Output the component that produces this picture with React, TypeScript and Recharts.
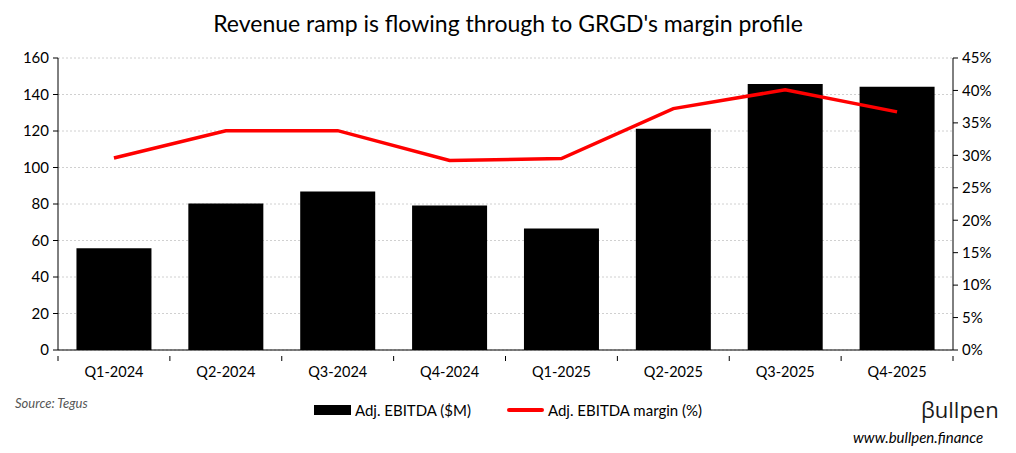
import React from "react";
import { ComposedChart, Bar, Line, XAxis, YAxis, CartesianGrid, Legend } from "recharts";

const quarters = ["Q1-2024", "Q2-2024", "Q3-2024", "Q4-2024", "Q1-2025", "Q2-2025", "Q3-2025", "Q4-2025"];
const ebitda = [55.7, 80.3, 86.8, 79.2, 66.6, 121.2, 145.8, 144.2];
const margin = [29.6, 33.8, 33.8, 29.2, 29.5, 37.2, 40.1, 36.7];
const leftTicks = [0, 20, 40, 60, 80, 100, 120, 140, 160];
const rightTicks = [0, 5, 10, 15, 20, 25, 30, 35, 40, 45];

const data = quarters.map((q, i) => ({ q, ebitda: ebitda[i], margin: margin[i] }));

const FONT = "Lato, 'Open Sans', sans-serif";

const CatTick = (props: any) => {
  const { x, y, payload, index, width } = props;
  const half = width / quarters.length / 2;
  const axisY = y - 14;
  return (
    <g>
      <line x1={x - half} x2={x - half} y1={axisY} y2={axisY + 5} stroke="#000" />
      {index === quarters.length - 1 && <line x1={x + half} x2={x + half} y1={axisY} y2={axisY + 5} stroke="#000" />}
      <text x={x} y={y} dy={7} textAnchor="middle" fill="#000" fontSize={14.5} fontFamily={FONT}>
        {payload.value}
      </text>
    </g>
  );
};

const LegendContent = () => (
  <div style={{ display: "flex", justifyContent: "center", alignItems: "center", fontFamily: FONT, fontSize: 15, color: "#000" }}>
    <span style={{ display: "inline-block", width: 37, height: 10, background: "#000", marginRight: 4 }} />
    <span style={{ marginRight: 36 }}>Adj. EBITDA ($M)</span>
    <span style={{ display: "inline-block", width: 37, height: 4, background: "#ff0000", borderRadius: 2, marginRight: 4 }} />
    <span>Adj. EBITDA margin (%)</span>
  </div>
);

export default function App() {
  return (
    <div style={{ position: "relative", width: 1000, height: 445, background: "#fff", fontFamily: FONT }}>
      <div style={{ position: "absolute", top: 0, left: 0, width: 1000, textAlign: "center", fontSize: 23, color: "#000", lineHeight: "30px" }}>
        Revenue ramp is flowing through to GRGD's margin profile
      </div>
      <ComposedChart width={1000} height={445} data={data} margin={{ top: 50, right: 0, left: 0, bottom: 55 }} barCategoryGap="16.5%">
        <CartesianGrid vertical={false} stroke="#d0d0d0" strokeDasharray="2 2" yAxisId="left" />
        <XAxis dataKey="q" axisLine={{ stroke: "#000" }} tickLine={false} tick={<CatTick />} tickMargin={14} height={30} interval={0} />
        <YAxis yAxisId="left" domain={[0, 160]} ticks={leftTicks} width={50} axisLine={{ stroke: "#000" }} tickLine={{ stroke: "#000" }} tickSize={5} tick={{ fill: "#000", fontSize: 15, fontFamily: FONT }} tickMargin={4} />
        <YAxis yAxisId="right" orientation="right" domain={[0, 45]} ticks={rightTicks} width={55} tickFormatter={(v) => `${v}%`} axisLine={{ stroke: "#000" }} tickLine={{ stroke: "#000" }} tickSize={5} tick={{ fill: "#000", fontSize: 15, fontFamily: FONT }} tickMargin={4} />
        <Bar dataKey="ebitda" yAxisId="left" fill="#000" isAnimationActive={false} />
        <Line dataKey="margin" yAxisId="right" stroke="#ff0000" strokeWidth={3.5} dot={false} activeDot={false} isAnimationActive={false} type="linear" />
        <Legend content={<LegendContent />} wrapperStyle={{ position: "absolute", top: 393, left: 0, width: 1000 }} />
      </ComposedChart>
      <div style={{ position: "absolute", left: 7, top: 387, fontSize: 13, fontStyle: "italic", color: "#555" }}>Source: Tegus</div>
      <div style={{ position: "absolute", left: 913, top: 386, fontSize: 22, color: "#1a1a1a", fontFamily: "'Open Sans', sans-serif" }}>βullpen</div>
      <div style={{ position: "absolute", left: 845, top: 420, fontSize: 15, fontStyle: "italic", color: "#000" }}>www.bullpen.finance</div>
    </div>
  );
}
